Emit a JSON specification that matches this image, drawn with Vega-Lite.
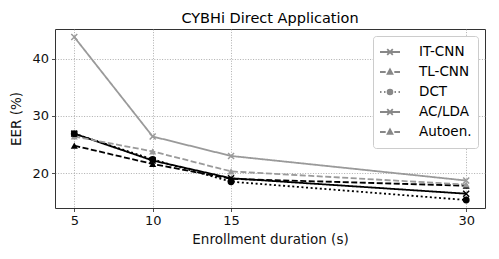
{
  "$schema": "https://vega.github.io/schema/vega-lite/v6.json",
  "autosize": {"type": "none"},
  "width": 430,
  "height": 179,
  "padding": {"left": 55, "top": 29, "right": 14, "bottom": 51},
  "background": "white",
  "title": {"text": "CYBHi Direct Application", "font": "DejaVu Sans", "fontSize": 14.5, "fontWeight": "normal", "color": "#000", "anchor": "middle", "offset": 7, "baseline": "alphabetic", "frame": "group", "dy": 15},
  "config": {
    "view": {"stroke": "#333", "strokeWidth": 1},
    "axis": {"labelFont": "DejaVu Sans", "titleFont": "DejaVu Sans", "labelFontSize": 13, "titleFontSize": 13.5, "titleFontWeight": "normal", "labelColor": "#111", "titleColor": "#111", "tickColor": "#222", "tickSize": 3.5, "tickWidth": 0.8, "labelPadding": 3, "domain": false, "gridColor": "#999", "gridDash": [1, 1.6], "gridWidth": 0.8, "gridOpacity": 1},
    "legend": {"orient": "top-right", "offset": 7, "padding": 6, "strokeColor": "#cccccc", "fillColor": "#ffffff", "cornerRadius": 3, "labelFont": "DejaVu Sans", "labelFontSize": 13.5, "labelColor": "#000", "symbolSize": 400, "symbolStrokeWidth": 1.8, "symbolOpacity": 1, "clipHeight": 20, "labelOffset": 18, "rowPadding": 0, "labelLimit": 200}
  },
  "data": {"values": [
    {"series": "IT-CNN", "x": 5, "y": 26.9},
    {"series": "IT-CNN", "x": 10, "y": 22.2},
    {"series": "IT-CNN", "x": 15, "y": 19.1},
    {"series": "IT-CNN", "x": 30, "y": 16.4},
    {"series": "TL-CNN", "x": 5, "y": 24.8},
    {"series": "TL-CNN", "x": 10, "y": 21.6},
    {"series": "TL-CNN", "x": 15, "y": 19.0},
    {"series": "TL-CNN", "x": 30, "y": 17.8},
    {"series": "DCT", "x": 5, "y": 26.9},
    {"series": "DCT", "x": 10, "y": 22.4},
    {"series": "DCT", "x": 15, "y": 18.5},
    {"series": "DCT", "x": 30, "y": 15.3},
    {"series": "AC/LDA", "x": 5, "y": 43.8},
    {"series": "AC/LDA", "x": 10, "y": 26.4},
    {"series": "AC/LDA", "x": 15, "y": 23.0},
    {"series": "AC/LDA", "x": 30, "y": 18.7},
    {"series": "Autoen.", "x": 5, "y": 26.4},
    {"series": "Autoen.", "x": 10, "y": 23.8},
    {"series": "Autoen.", "x": 15, "y": 20.3},
    {"series": "Autoen.", "x": 30, "y": 18.0}
  ]},
  "encoding": {
    "x": {"field": "x", "type": "quantitative", "scale": {"domain": [3.77, 31.2], "nice": false, "zero": false}, "axis": {"values": [5, 10, 15, 30], "title": "Enrollment duration (s)", "titlePadding": 5}},
    "y": {"field": "y", "type": "quantitative", "scale": {"domain": [13.9, 45.2], "nice": false, "zero": false}, "axis": {"values": [20, 30, 40], "title": "EER (%)", "titlePadding": 8}}
  },
  "layer": [
    {
      "mark": {"type": "line", "strokeWidth": 1.8},
      "encoding": {
        "color": {"field": "series", "type": "nominal", "scale": {"domain": ["IT-CNN", "TL-CNN", "DCT", "AC/LDA", "Autoen."], "range": ["#000000", "#000000", "#000000", "#9a9a9a", "#9a9a9a"]}, "legend": null},
        "strokeDash": {"field": "series", "type": "nominal", "scale": {"domain": ["IT-CNN", "TL-CNN", "DCT", "AC/LDA", "Autoen."], "range": [[1, 0], [6, 2.5], [2, 2.6], [1, 0], [6, 2.5]]}, "legend": null}
      }
    },
    {
      "transform": [{"filter": "datum.series === 'IT-CNN' || datum.series === 'AC/LDA'"}],
      "mark": {"type": "point", "filled": false, "size": 36, "strokeWidth": 1.5, "opacity": 1, "shape": "M-1,-1L1,1M-1,1L1,-1"},
      "encoding": {
        "color": {"field": "series", "type": "nominal", "legend": null}
      }
    },
    {
      "transform": [{"filter": "datum.series === 'TL-CNN' || datum.series === 'Autoen.'"}],
      "mark": {"type": "point", "filled": true, "size": 50, "opacity": 1, "shape": "triangle-up"},
      "encoding": {
        "color": {"field": "series", "type": "nominal", "legend": null}
      }
    },
    {
      "transform": [{"filter": "datum.series === 'DCT'"}],
      "mark": {"type": "point", "filled": true, "size": 48, "opacity": 1, "shape": "circle"},
      "encoding": {
        "color": {"field": "series", "type": "nominal", "legend": null}
      }
    },
    {
      "transform": [{"filter": "datum.x < 0"}],
      "mark": {"type": "point", "filled": false, "opacity": 1, "strokeWidth": 1.8},
      "encoding": {
        "stroke": {"field": "series", "type": "nominal", "scale": {"domain": ["IT-CNN", "TL-CNN", "DCT", "AC/LDA", "Autoen."], "range": ["#000000", "#000000", "#000000", "#9a9a9a", "#9a9a9a"]}, "legend": {"title": null}},
        "shape": {"field": "series", "type": "nominal", "scale": {"domain": ["IT-CNN", "TL-CNN", "DCT", "AC/LDA", "Autoen."], "range": [
          "M-1,0H1M-0.28,-0.28L0.28,0.28M-0.28,0.28L0.28,-0.28",
          "M-1,0H-0.43M0.43,0H1M0,-0.26L0.24,0.18L-0.24,0.18ZM-0.1,0.04H0.1",
          "M-1,0H-0.85M-0.6,0H-0.45M0.45,0H0.6M0.85,0H1M0.24,0A0.24,0.24 0 1,1 -0.24,0A0.24,0.24 0 1,1 0.24,0ZM0.08,0A0.08,0.08 0 1,1 -0.08,0A0.08,0.08 0 1,1 0.08,0Z",
          "M-1,0H1M-0.28,-0.28L0.28,0.28M-0.28,0.28L0.28,-0.28",
          "M-1,0H-0.43M0.43,0H1M0,-0.26L0.24,0.18L-0.24,0.18ZM-0.1,0.04H0.1"
        ]}, "legend": {"title": null}}
      }
    }
  ],
  "resolve": {"scale": {"shape": "independent"}}
}
